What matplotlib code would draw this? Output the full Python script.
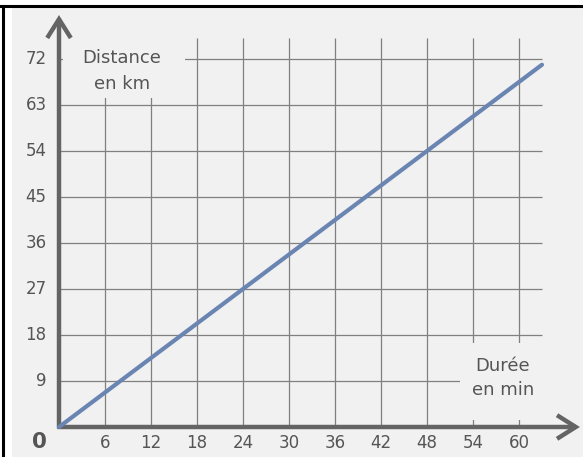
import matplotlib
matplotlib.use('Agg')
import matplotlib.pyplot as plt
from matplotlib.patches import Rectangle

# data
durations = [0, 63]          # min
distances = [0, 70.875]      # km (54 km in 48 min)
x_ticks = [6, 12, 18, 24, 30, 36, 42, 48, 54, 60]
y_ticks = [9, 18, 27, 36, 45, 54, 63, 72]

BG = '#f1f1f1'
GRID = '#808080'
AXIS = '#646464'
TXT = '#555555'
LINE = '#6b85b3'

fig = plt.figure(figsize=(5.83, 4.57), dpi=100)
ax = fig.add_axes([0, 0, 1, 1])
ax.set_xlim(-7.696, 68.35)
ax.set_ylim(-5.87, 83.54)
ax.axis('off')

# background panel and black frame
ax.add_patch(Rectangle((12 / 583, 0), 1, 1 - 8 / 457, transform=ax.transAxes,
                       facecolor=BG, edgecolor='none', zorder=0))
ax.plot([0, 1], [1 - 5.5 / 457] * 2, transform=ax.transAxes, color='black', lw=2.2, zorder=1)
ax.plot([2.5 / 583] * 2, [0, 1 - 5.5 / 457], transform=ax.transAxes, color='black', lw=2.2, zorder=1)

# grid
ax.vlines(x_ticks, 0, 76.1, color=GRID, lw=0.9, zorder=1)
ax.hlines(y_ticks, 0, 63, color=GRID, lw=0.9, zorder=1)

# axis labels, each on a patch that hides the grid behind it
ax.add_patch(Rectangle((0.5, 64.4), 15.9, 12.5, facecolor=BG, edgecolor='none', zorder=2))
ax.add_patch(Rectangle((52.3, 1.4), 11.1, 15.0, facecolor=BG, edgecolor='none', zorder=2))
ax.text(8.2, 69.65, 'Distance\nen km', ha='center', va='center', fontsize=13,
        color=TXT, linespacing=1.55, zorder=3)
ax.text(57.9, 9.6, 'Durée\nen min', ha='center', va='center', fontsize=13,
        color=TXT, linespacing=1.45, zorder=3)

# axes with open arrow heads
arrow = dict(arrowstyle='->,head_length=1.35,head_width=0.85', color=AXIS, lw=3.2,
             shrinkA=0, shrinkB=0, joinstyle='miter', capstyle='butt')
ax.annotate('', xy=(0, 80.6), xytext=(0, -0.3), arrowprops=arrow, zorder=4)
ax.annotate('', xy=(67.95, 0), xytext=(-0.2, 0), arrowprops=arrow, zorder=4)

# tick labels
for v in y_ticks:
    ax.text(-1.6, v, str(v), ha='right', va='center', fontsize=12, color=TXT)
for v in x_ticks:
    ax.text(v, -3.2, str(v), ha='center', va='center', fontsize=12, color=TXT)
ax.text(-2.5, -2.9, '0', ha='center', va='center', fontsize=15.5, color=TXT, fontweight='bold')

# distance vs duration
ax.plot(durations, distances, color=LINE, lw=3.0, solid_capstyle='round', zorder=5)

fig.savefig('out.png', dpi=100)
